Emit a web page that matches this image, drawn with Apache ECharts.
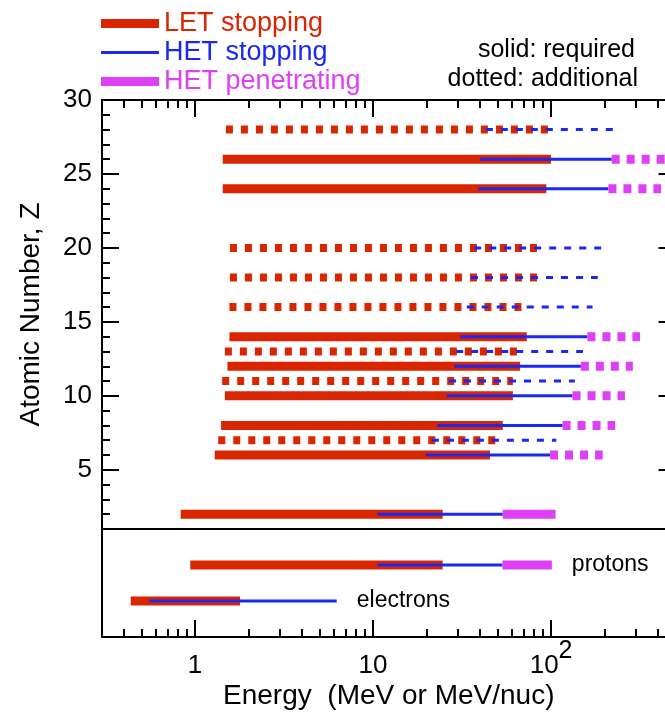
<!DOCTYPE html>
<html>
<head>
<meta charset="utf-8" />
<title>Energy coverage</title>
<style>
  html, body { margin: 0; padding: 0; background: #fff; }
  #chart { width: 665px; height: 713px; }
</style>
</head>
<body>
<div id="chart"></div>
<script src="https://cdn.jsdelivr.net/npm/echarts@6/dist/echarts.min.js"></script>
<script>
// upper panel rows, top to bottom (Z = atomic number)
var rowZ        = [28,   26,   24,   20,   18,   16,   14,   13,   12,   11,   10,   8,    7,    6,    2];
var rowDotted   = [1,    0,    0,    1,    1,    1,    0,    1,    0,    1,    0,    0,    1,    0,    0];
var letLow      = [1.49, 1.43, 1.43, 1.57, 1.57, 1.56, 1.56, 1.47, 1.52, 1.42, 1.47, 1.40, 1.35, 1.29, 0.83];
var letHigh     = [98,   100,  94,   85,   85,   71,   73,   65,   67,   61,   61,   53.5, 49.5, 45.4, 24.6];
var hetStopLow  = [43,   40,   39,   37,   35.5, 33.6, 30.8, 29.3, 28.6, 26.7, 25.9, 23,   21.4, 19.8, 10.6];
var hetStopHigh = [224,  219,  210,  193,  183,  171,  160,  151,  147,  136,  132,  116,  107,  98.7, 53.5];
// HET penetrating starts where HET stopping ends
var hetPenHigh  = [null, 440,  415,  null, null, null, 316,  null, 288,  null, 260,  229,  null, 195,  106];
var penDotted   = [0,    1,    1,    0,    0,    0,    1,    0,    1,    0,    1,    1,    0,    1,    0];

// lower panel
var lowNames    = ['protons', 'electrons'];
var lowY        = [2, 1];
var lowLetLow   = [0.94, 0.435];
var lowLetHigh  = [24.6, 1.79];
var lowStopLow  = [10.6, 0.554];
var lowStopHigh = [53.3, 6.25];
var lowPenHigh  = [101, null];

// axes
var energyMin = 0.3, energyMax = 500;
var energyMajor = [1, 10, 100];
var energyMinor = [0.4, 0.5, 0.6, 0.7, 0.8, 0.9, 2, 3, 4, 5, 6, 7, 8, 9,
                   20, 30, 40, 50, 60, 70, 80, 90, 200, 300, 400];
var zMajor = [5, 10, 15, 20, 25, 30];
var zMinor = [2, 3, 4, 6, 7, 8, 9, 11, 12, 13, 14, 16, 17, 18, 19, 21, 22, 23, 24, 26, 27, 28, 29];

var FONT = "'Liberation Sans', Arial, Helvetica, sans-serif";
var RED = '#d92600', BLUE = '#1a28f2', MAGENTA = '#de40f6', INK = '#000';

function segments(lows, highs, ys, keep) {
  var out = [];
  for (var i = 0; i < ys.length; i++) {
    if (lows[i] == null || highs[i] == null || !keep(i)) continue;
    if (out.length) out.push(['-', '-']);
    out.push([lows[i], ys[i]], [highs[i], ys[i]]);
  }
  return out;
}

function bar(name, data, color, width, dash, xi, yi) {
  return {
    type: 'line', name: name, data: data,
    xAxisIndex: xi, yAxisIndex: yi,
    symbol: 'none', showSymbol: false, connectNulls: false,
    silent: true, animation: false,
    itemStyle: { color: color },
    lineStyle: { color: color, width: width, type: dash || 'solid', cap: 'butt' }
  };
}

function xAx(grid, pos, opts) {
  var a = {
    type: 'log', logBase: 10, gridIndex: grid, position: pos,
    min: energyMin, max: energyMax,
    splitLine: { show: false },
    axisLine: { show: false, onZero: false, lineStyle: { color: '#000', width: 2 } },
    axisTick: { show: false },
    axisLabel: { show: false }
  };
  return Object.assign(a, opts || {});
}

function yAx(grid, pos, min, max, opts) {
  var a = {
    type: 'value', gridIndex: grid, position: pos, min: min, max: max,
    splitLine: { show: false },
    axisLine: { show: false, onZero: false, lineStyle: { color: '#000', width: 2 } },
    axisTick: { show: false },
    axisLabel: { show: false }
  };
  return Object.assign(a, opts || {});
}

function ticks(values, len) {
  return { show: true, inside: true, length: len, customValues: values,
           lineStyle: { color: '#000', width: 2 } };
}

function legendItem(name, color, thick) {
  return {
    name: name,
    icon: 'path://M0,0H58V' + thick + 'H0Z',
    itemStyle: { color: color, borderWidth: 0 },
    textStyle: { color: color }
  };
}

var frame = { show: true, onZero: false, lineStyle: { color: '#000', width: 2 } };
var notDotted = function (i) { return !rowDotted[i]; };
var isDotted = function (i) { return !!rowDotted[i]; };
var all = function () { return true; };

var chart = echarts.init(document.getElementById('chart'));

chart.setOption({
  backgroundColor: '#fff',
  animation: false,
  textStyle: { fontFamily: FONT },
  grid: [
    { left: 102, top: 100, width: 573.5, height: 429, outerBoundsMode: 'none' },
    { left: 102, top: 529, width: 573.5, height: 108, outerBoundsMode: 'none' }
  ],
  legend: {
    left: 101, top: 10, orient: 'vertical', padding: 0,
    itemWidth: 58, itemHeight: 12, itemGap: 2,
    selectedMode: false,
    textStyle: { fontSize: 27, fontFamily: FONT },
    data: [
      legendItem('LET stopping', RED, 9),
      legendItem('HET stopping', BLUE, 3),
      legendItem('HET penetrating', MAGENTA, 9)
    ]
  },
  graphic: [
    { type: 'text', right: 30, top: 38,
      style: { text: 'solid: required', font: '25px ' + FONT, fill: INK } },
    { type: 'text', right: 27, top: 67,
      style: { text: 'dotted: additional', font: '25px ' + FONT, fill: INK } }
  ],
  xAxis: [
    xAx(0, 'bottom', { axisLine: frame }),
    xAx(0, 'top', { axisLine: frame, axisTick: ticks(energyMajor, 17) }),
    xAx(0, 'top', { axisTick: ticks(energyMinor, 8) }),
    xAx(1, 'bottom', {
      axisLine: frame,
      axisTick: ticks(energyMajor, 17),
      axisLabel: {
        show: true, margin: 2, customValues: energyMajor,
        formatter: function (v) {
          var e = Math.round(Math.log10(v));
          return e >= 2 ? '{b|10}{s|' + e + '}' : '{b|' + Math.round(v) + '}';
        },
        rich: {
          b: { fontSize: 26, lineHeight: 54, color: INK, fontFamily: FONT },
          s: { fontSize: 25, lineHeight: 26, verticalAlign: 'top', color: INK, fontFamily: FONT }
        }
      },
      name: 'Energy  (MeV or MeV/nuc)', nameLocation: 'middle', nameGap: 45,
      nameTextStyle: { fontSize: 28, color: INK, fontFamily: FONT }
    }),
    xAx(1, 'bottom', { axisTick: ticks(energyMinor, 8) })
  ],
  yAxis: [
    yAx(0, 'left', 1, 30, {
      axisLine: frame,
      axisTick: ticks(zMajor, 17),
      axisLabel: { show: true, customValues: zMajor, margin: 10,
                   fontSize: 26, color: INK, fontFamily: FONT },
      name: 'Atomic Number, Z', nameLocation: 'middle', nameGap: 57,
      nameTextStyle: { fontSize: 28, color: INK, fontFamily: FONT }
    }),
    yAx(0, 'left', 1, 30, { axisTick: ticks(zMinor, 8) }),
    yAx(0, 'right', 1, 30, { axisLine: frame, axisTick: ticks(zMajor, 17) }),
    yAx(0, 'right', 1, 30, { axisTick: ticks(zMinor, 8) }),
    yAx(1, 'left', 0, 3, { axisLine: frame }),
    yAx(1, 'right', 0, 3, { axisLine: frame })
  ],
  series: [
    bar('LET stopping', segments(letLow, letHigh, rowZ, notDotted), RED, 9, null, 0, 0),
    bar('LET stopping', segments(letLow, letHigh, rowZ, isDotted), RED, 8, [7, 8], 0, 0),
    bar('HET stopping', segments(hetStopLow, hetStopHigh, rowZ, notDotted), BLUE, 3, null, 0, 0),
    bar('HET stopping', segments(hetStopLow, hetStopHigh, rowZ, isDotted), BLUE, 3, [7, 8], 0, 0),
    bar('HET penetrating', segments(hetStopHigh, hetPenHigh, rowZ, function (i) { return !penDotted[i]; }), MAGENTA, 9, null, 0, 0),
    bar('HET penetrating', segments(hetStopHigh, hetPenHigh, rowZ, function (i) { return !!penDotted[i]; }), MAGENTA, 9, [8, 7], 0, 0),

    bar('LET stopping', segments(lowLetLow, lowLetHigh, lowY, all), RED, 9, null, 3, 4),
    bar('HET stopping', segments(lowStopLow, lowStopHigh, lowY, all), BLUE, 3, null, 3, 4),
    bar('HET penetrating', segments(lowStopHigh, lowPenHigh, lowY, all), MAGENTA, 9, null, 3, 4),
    {
      type: 'scatter', xAxisIndex: 3, yAxisIndex: 4,
      symbolSize: 0, silent: true, animation: false,
      itemStyle: { opacity: 1 },
      label: {
        show: true, position: 'right', distance: 20, opacity: 1,
        fontSize: 23, color: INK, fontFamily: FONT,
        formatter: function (p) { return p.value[2]; }
      },
      data: lowNames.map(function (n, i) {
        return [lowPenHigh[i] != null ? lowPenHigh[i] : lowStopHigh[i], lowY[i], n];
      })
    }
  ]
});

window.addEventListener('resize', function () { chart.resize(); });
</script>
</body>
</html>
